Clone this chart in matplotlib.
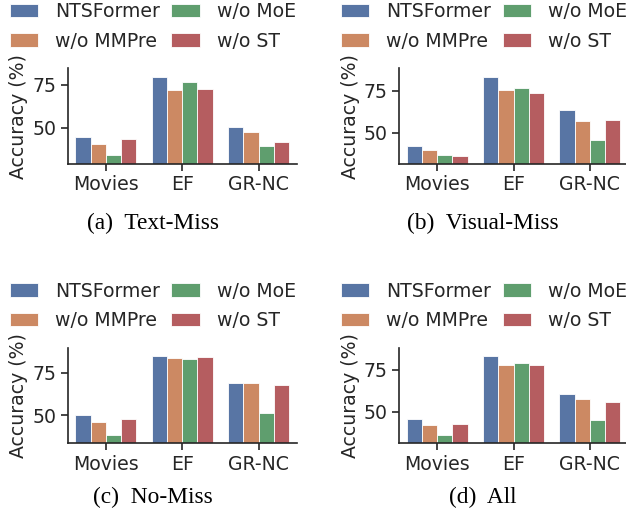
import matplotlib
matplotlib.use("Agg")
import matplotlib.pyplot as plt
from matplotlib.ticker import MultipleLocator
import numpy as np

datasets = ["Movies", "EF", "GR-NC"]
methods = ["NTSFormer", "w/o MMPre", "w/o MoE", "w/o ST"]
colors = ["#5875a4", "#cc8963", "#5f9e6e", "#b55d60"]

# accuracy (%) per setting, rows = methods, cols = datasets
text_miss = [[44.7, 79.7, 50.4],
             [40.2, 71.9, 47.5],
             [33.8, 76.8, 39.3],
             [43.2, 72.7, 41.6]]
visual_miss = [[42.0, 83.6, 63.4],
               [39.8, 75.4, 57.2],
               [36.8, 76.8, 45.6],
               [36.2, 74.0, 57.4]]
no_miss = [[50.2, 84.6, 69.1],
           [46.1, 83.6, 68.8],
           [38.5, 82.8, 51.2],
           [48.0, 84.4, 68.0]]
all_miss = [[45.6, 83.1, 60.9],
            [42.3, 77.6, 57.9],
            [36.3, 79.2, 45.4],
            [42.7, 77.6, 55.6]]

panels = [("(a)  Text-Miss", text_miss),
          ("(b)  Visual-Miss", visual_miss),
          ("(c)  No-Miss", no_miss),
          ("(d)  All", all_miss)]

W, H = 626, 518
fig = plt.figure(figsize=(W / 100, H / 100), dpi=100)
plt.rcParams["font.family"] = "DejaVu Sans"
dark = "#262626"
fs = 13.6

# pixel layout: (axes left, axes top, caption x center, caption y)
layout = [(67.7, 68.3, 153, 223),
          (399, 68.3, 483, 223),
          (67.7, 347.7, 153, 497),
          (399, 347.7, 483, 497)]
ax_w, ax_h = 229, 95.7

for (caption, vals), (lx, ty, cx, cy) in zip(panels, layout):
    ax = fig.add_axes([lx / W, 1 - (ty + ax_h) / H, ax_w / W, ax_h / H])
    vals = np.array(vals)
    x = np.arange(len(datasets))
    for j, m in enumerate(methods):
        ax.bar(x + (j - 1.5) * 0.2, vals[j], width=0.2, color=colors[j],
               edgecolor="white", linewidth=0.6, label=m)
    ax.set_xlim(-0.5, 2.5)
    ax.set_ylim(vals.min() - 5, vals.max() + 5)
    ax.yaxis.set_major_locator(MultipleLocator(25))
    ax.set_xticks(x)
    ax.set_xticklabels(datasets)
    ax.set_ylabel("Accuracy (%)", fontsize=fs, color=dark, labelpad=3)
    ax.tick_params(labelsize=fs, colors=dark, length=5, width=1.2, pad=3)
    for s in ["top", "right"]:
        ax.spines[s].set_visible(False)
    for s in ["left", "bottom"]:
        ax.spines[s].set_color(dark)
        ax.spines[s].set_linewidth(1.2)
    leg = ax.legend(ncol=2, loc="upper left", frameon=False, fontsize=fs,
                    bbox_to_anchor=((lx - 58) / W, 1 - (ty - 66) / H),
                    bbox_transform=fig.transFigure,
                    borderaxespad=0, borderpad=0, handlelength=1.5, handleheight=0.7,
                    handletextpad=0.9, columnspacing=0.6, labelspacing=0.55)
    for t in leg.get_texts():
        t.set_color(dark)
    fig.text(cx / W, 1 - cy / H, caption, ha="center", va="center",
             fontsize=16.8, family=["Liberation Serif", "DejaVu Serif"])

fig.savefig("out.png", dpi=100)
